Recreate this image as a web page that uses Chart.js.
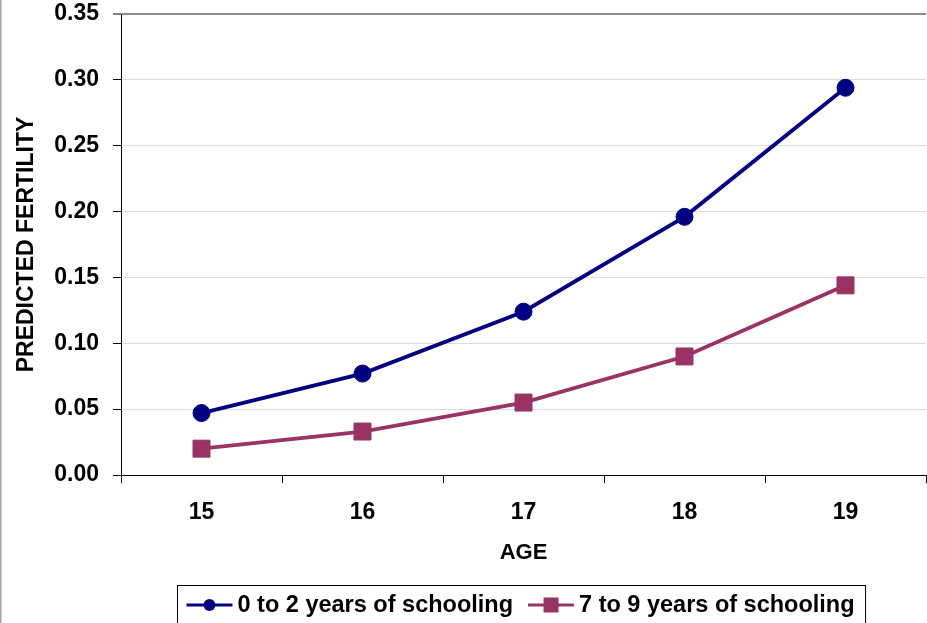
<!DOCTYPE html>
<html>
<head>
<meta charset="utf-8">
<title>Predicted fertility by age and schooling</title>
<script src="https://cdn.jsdelivr.net/npm/chart.js@4.4.1/dist/chart.umd.min.js"></script>
<style>
  html, body { margin: 0; padding: 0; background: #ffffff; }
  #wrap { width: 927px; height: 623px; position: relative; }
</style>
</head>
<body>
<div id="wrap"><canvas id="chart" width="927" height="623"></canvas></div>
<script>
// Ages on the horizontal axis
const ages = ['15', '16', '17', '18', '19'];
// Predicted fertility, 0 to 2 years of schooling
const lowSchooling = [0.047, 0.077, 0.124, 0.196, 0.294];
// Predicted fertility, 7 to 9 years of schooling
const midSchooling = [0.020, 0.033, 0.055, 0.090, 0.144];
// Series names
const seriesNames = ['0 to 2 years of schooling', '7 to 9 years of schooling'];
// Y tick range
const yMin = 0, yMax = 0.35, yStep = 0.05;

const NAVY = '#000080';
const PLUM = '#993366';
const FONT = '"Liberation Sans", Arial, Helvetica, sans-serif';

// Frame line on the left edge and a boxed legend under the plot
const legendBox = {
  id: 'legendBox',
  afterDraw(chart) {
    const ctx = chart.ctx;
    ctx.save();
    ctx.strokeStyle = '#a6a6a6';
    ctx.lineWidth = 1.5;
    ctx.beginPath();
    ctx.moveTo(0.75, 0);
    ctx.lineTo(0.75, chart.height);
    ctx.stroke();

    ctx.font = 'bold 23.5px ' + FONT;
    const sampleW = 46, gapText = 5, gapItem = 15, padL = 9, padR = 11;
    const items = chart.data.datasets.map(ds => ({
      ds, w: ctx.measureText(ds.label).width
    }));
    let total = padL + padR;
    items.forEach((it, i) => {
      total += sampleW + gapText + it.w + (i ? gapItem : 0);
    });
    const cx = 521;
    const boxL = Math.round(cx - total / 2) + 0.5;
    const boxT = 585.5;
    ctx.strokeStyle = '#000000';
    ctx.lineWidth = 1;
    ctx.strokeRect(boxL, boxT, total, 60);

    const yMid = 605;
    let x = boxL + padL;
    items.forEach((it, i) => {
      if (i) x += gapItem;
      const c = it.ds.borderColor;
      ctx.strokeStyle = c;
      ctx.fillStyle = c;
      ctx.lineWidth = 3;
      ctx.beginPath();
      ctx.moveTo(x, yMid);
      ctx.lineTo(x + sampleW, yMid);
      ctx.stroke();
      const mx = x + sampleW / 2;
      if (it.ds.pointStyle === 'rect') {
        ctx.fillRect(mx - 7.5, yMid - 7.5, 15, 15);
      } else {
        ctx.beginPath();
        ctx.arc(mx, yMid, 6, 0, Math.PI * 2);
        ctx.fill();
      }
      x += sampleW + gapText;
      ctx.fillStyle = '#000000';
      ctx.textBaseline = 'middle';
      ctx.textAlign = 'left';
      ctx.fillText(it.ds.label, x, yMid + 1);
      x += it.w;
    });
    ctx.restore();
  }
};

new Chart(document.getElementById('chart'), {
  type: 'line',
  data: {
    labels: ages,
    datasets: [
      {
        label: seriesNames[0],
        data: lowSchooling,
        borderColor: NAVY,
        backgroundColor: NAVY,
        borderWidth: 3.8,
        pointStyle: 'circle',
        pointRadius: 8.5,
        pointHoverRadius: 8.5,
        pointBorderWidth: 1,
        tension: 0
      },
      {
        label: seriesNames[1],
        data: midSchooling,
        borderColor: PLUM,
        backgroundColor: PLUM,
        borderWidth: 3.8,
        pointStyle: 'rect',
        pointRadius: 12,
        pointHoverRadius: 12,
        pointBorderWidth: 1,
        tension: 0
      }
    ]
  },
  options: {
    responsive: false,
    animation: false,
    events: [],
    layout: { autoPadding: false, padding: { left: 0, right: 1, top: 14, bottom: 53 } },
    plugins: {
      legend: { display: false },
      tooltip: { enabled: false }
    },
    scales: {
      x: {
        type: 'category',
        offset: true,
        grid: {
          offset: true,
          drawOnChartArea: false,
          tickLength: 8,
          tickColor: '#000000',
          tickWidth: 1
        },
        border: { color: '#000000', width: 1 },
        ticks: {
          color: '#000000',
          padding: 16,
          font: { family: FONT, size: 23, weight: 'bold' },
          maxRotation: 0
        },
        title: {
          display: true,
          text: 'AGE',
          color: '#000000',
          padding: { top: 0, bottom: 4 },
          font: { family: FONT, size: 22, weight: 'bold' }
        },
        afterFit(scale) {
          scale.height = 95;
          scale.paddingLeft = 0;
          scale.paddingRight = 0;
        }
      },
      y: {
        min: yMin,
        max: yMax,
        grid: {
          color: ctx => (ctx.tick && Math.abs(ctx.tick.value - yMax) < 1e-9) ? '#8c8c8c' : '#dcdcdc',
          lineWidth: ctx => (ctx.tick && Math.abs(ctx.tick.value - yMax) < 1e-9) ? 2 : 1,
          tickLength: 8,
          tickColor: '#000000',
          tickWidth: 1
        },
        border: { color: '#000000', width: 1 },
        ticks: {
          stepSize: yStep,
          color: '#000000',
          padding: 14,
          font: { family: FONT, size: 23, weight: 'bold' },
          callback: v => Number(v).toFixed(2)
        },
        title: {
          display: true,
          text: 'PREDICTED FERTILITY',
          color: '#000000',
          padding: { top: 13, bottom: 0 },
          font: { family: FONT, size: 23, weight: 'bold' }
        },
        afterFit(scale) {
          scale.width = 121;
          scale.paddingTop = 0;
          scale.paddingBottom = 0;
        }
      }
    }
  },
  plugins: [legendBox]
});
</script>
</body>
</html>
